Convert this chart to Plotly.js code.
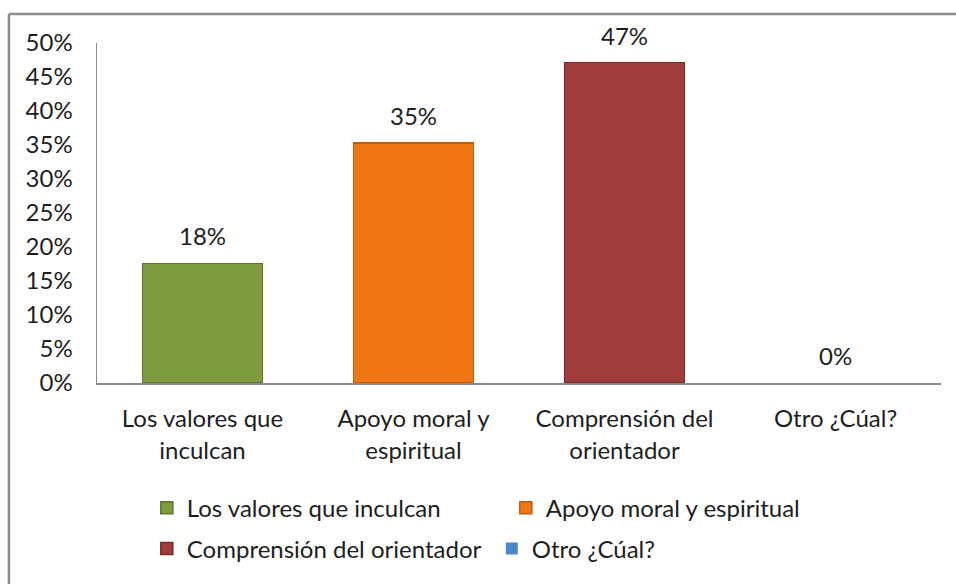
<!DOCTYPE html>
<html>
<head>
<meta charset="utf-8">
<script src="https://cdn.plot.ly/plotly-3.0.1.min.js"></script>
<style>
html,body{margin:0;padding:0;background:#fff;}
#chart{width:956px;height:584px;}
</style>
</head>
<body>
<div id="chart"></div>
<script>
const categories = ['Los valores que inculcan', 'Apoyo moral y espiritual', 'Comprensión del orientador', 'Otro ¿Cúal?'];
const tickLabels = ['Los valores que<br>inculcan', 'Apoyo moral y<br>espiritual', 'Comprensión del<br>orientador', 'Otro ¿Cúal?'];
const values = [0.176, 0.353, 0.471, 0];
const valueLabels = ['18%', '35%', '47%', '0%'];
const barColors = ['#7F9B3F', '#F07614', '#A03C3B', '#4A86C8'];
const edgeColors = ['#5E742C', '#C25A08', '#772A29', '#2F5F96'];
const legendOf = ['legend', 'legend', 'legend2', 'legend2'];

const FONT = 'Lato, "Noto Sans", sans-serif';
const FS = 24;
const traces = categories.map((c, i) => ({
  type: 'bar',
  x: [c],
  y: [values[i]],
  name: c,
  legend: legendOf[i],
  marker: {color: barColors[i], line: {color: edgeColors[i], width: values[i] > 0 ? 1.5 : 0}},
  hoverinfo: 'skip'
}));

const annotations = categories.map((c, i) => ({
  x: c, y: values[i], xref: 'x', yref: 'y',
  text: valueLabels[i], showarrow: false,
  yanchor: 'bottom', yshift: 11,
  font: {family: FONT, size: FS, color: '#1e1e1e'}
}));

const layout = {
  width: 956, height: 584,
  margin: {l: 97, r: 15, t: 43, b: 201},
  paper_bgcolor: '#fff', plot_bgcolor: '#fff',
  font: {family: FONT, size: FS, color: '#1e1e1e'},
  barmode: 'stack',
  bargap: 0.43,
  showlegend: true,
  xaxis: {
    type: 'category',
    tickvals: categories, ticktext: tickLabels,
    showline: true, linecolor: '#8a8a8a', linewidth: 1.5,
    showgrid: false, zeroline: false, ticks: '',
    ticklabelstandoff: 14,
    fixedrange: true
  },
  yaxis: {
    range: [0, 0.5], dtick: 0.05, tick0: 0, tickformat: '.0%',
    showline: true, linecolor: '#8a8a8a', linewidth: 1.5,
    showgrid: false, zeroline: false, ticks: '',
    ticklabelstandoff: 18,
    fixedrange: true
  },
  legend: {
    orientation: 'h', x: 0.059, xanchor: 'left', y: -0.368, yanchor: 'middle',
    entrywidth: 314, entrywidthmode: 'pixels',
    font: {family: FONT, size: FS, color: '#1e1e1e'},
    bgcolor: 'rgba(0,0,0,0)', traceorder: 'normal'
  },
  legend2: {
    orientation: 'h', x: 0.059, xanchor: 'left', y: -0.488, yanchor: 'middle',
    entrywidth: 300, entrywidthmode: 'pixels',
    font: {family: FONT, size: FS, color: '#1e1e1e'},
    bgcolor: 'rgba(0,0,0,0)', traceorder: 'normal'
  },
  annotations: annotations,
  shapes: [
    {type: 'line', xref: 'paper', yref: 'paper', x0: -0.1043, x1: -0.1043, y0: 1.0853, y1: -0.7, line: {color: '#8c8c8c', width: 2.5}},
    {type: 'line', xref: 'paper', yref: 'paper', x0: -0.1043, x1: 1.05, y0: 1.0853, y1: 1.0853, line: {color: '#8c8c8c', width: 2.5}}
  ]
};

Plotly.newPlot('chart', traces, layout, {displayModeBar: false, staticPlot: true});
</script>
</body>
</html>
